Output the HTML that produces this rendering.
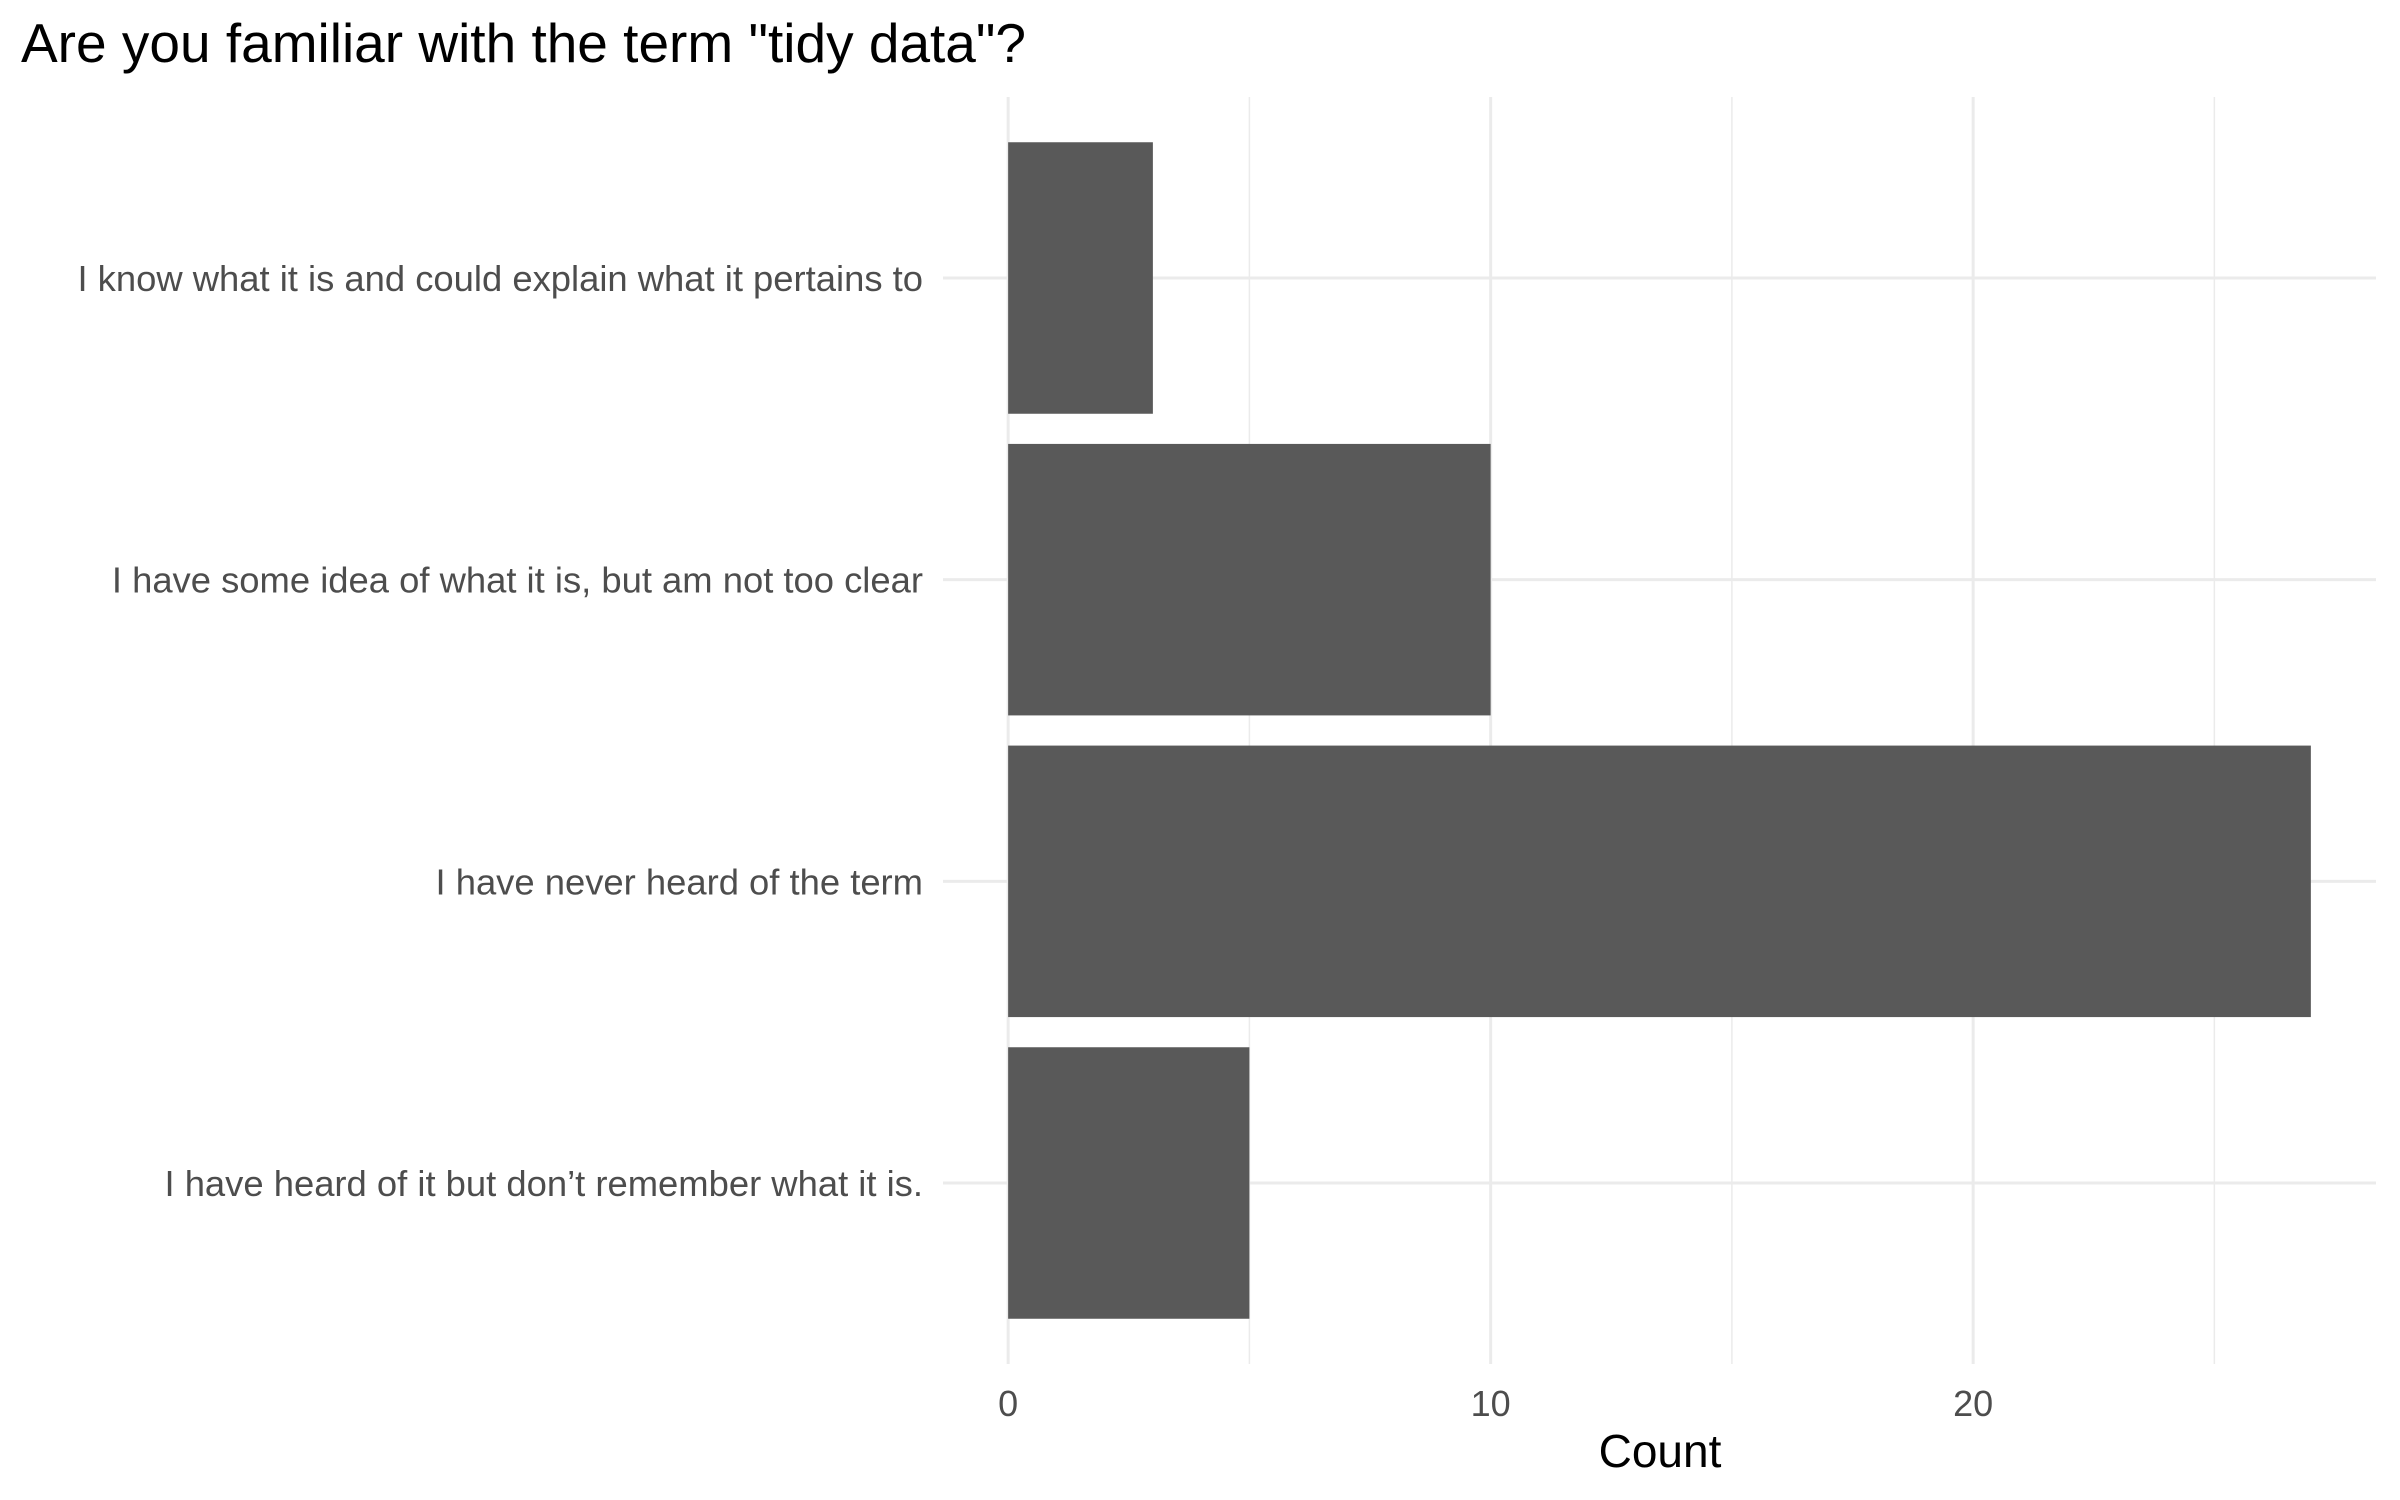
<!DOCTYPE html>
<html><head><meta charset="utf-8"><style>
html,body{margin:0;padding:0;background:#fff;}
svg{display:block;font-family:"Liberation Sans",Arial,sans-serif;}
</style></head><body>
<svg id="chart" width="2400" height="1500" viewBox="0 0 2400 1500" xmlns="http://www.w3.org/2000/svg">
<rect x="0" y="0" width="2400" height="1500" fill="#fff"/>
<text x="21" y="62" font-size="55" fill="#000">Are you familiar with the term "tidy data"?</text>
<g id="grid"></g>
<g id="bars"></g>
<g id="ylabels"></g>
<g id="xlabels"></g>
<text x="1660" y="1467" font-size="46" fill="#000" text-anchor="middle">Count</text>
</svg>
<script>
const categories = ["I know what it is and could explain what it pertains to","I have some idea of what it is, but am not too clear","I have never heard of the term","I have heard of it but don\u2019t remember what it is."];
const counts = [3, 10, 27, 5];
const majorTicks = [0, 10, 20];
const minorTicks = [5, 15, 25];
const tickLabels = ["0", "10", "20"];

const NS = "http://www.w3.org/2000/svg";
const panelL = 943, panelR = 2376, panelT = 97, panelB = 1364;
const maxV = Math.max(...counts);
const dMin = -0.05 * maxV, dMax = maxV * 1.05;
function xs(v){ return panelL + (v - dMin) / (dMax - dMin) * (panelR - panelL); }
const n = categories.length;
const step = (panelB - panelT) / (n + 0.2);
function yc(i){ return panelT + step * (0.6 + i); }
function mk(tag, attrs, parent){ const e = document.createElementNS(NS, tag); for (const k in attrs) e.setAttribute(k, attrs[k]); parent.appendChild(e); return e; }
const grid = document.getElementById('grid'), bars = document.getElementById('bars'), yl = document.getElementById('ylabels'), xl = document.getElementById('xlabels');
minorTicks.forEach(v => {
  const l = mk('line', {x1: xs(v), x2: xs(v), y1: panelT, y2: panelB, stroke: '#ebebeb', 'stroke-width': 1.5}, grid);
  
  
});
majorTicks.forEach((v, i) => {
  const l = mk('line', {x1: xs(v), x2: xs(v), y1: panelT, y2: panelB, stroke: '#ebebeb', 'stroke-width': 3}, grid);
  
  
  const t = mk('text', {x: xs(v), y: 1416, 'font-size': 36, fill: '#4d4d4d', 'text-anchor': 'middle'}, xl);
  t.textContent = tickLabels[i];
  
  
});
categories.forEach((c, i) => {
  const y = yc(i);
  const l = mk('line', {x1: panelL, x2: panelR, y1: y, y2: y, stroke: '#ebebeb', 'stroke-width': 3}, grid);
  
  
  const bh = step * 0.9;
  const r = mk('rect', {x: xs(0), y: y - bh / 2, width: xs(counts[i]) - xs(0), height: bh, fill: '#595959'}, bars);
  
  
  const t = mk('text', {x: 923, y: y + 13, 'font-size': 36.4, fill: '#4d4d4d', 'text-anchor': 'end'}, yl);
  t.textContent = c;
  
  
});
</script>
</body></html>
